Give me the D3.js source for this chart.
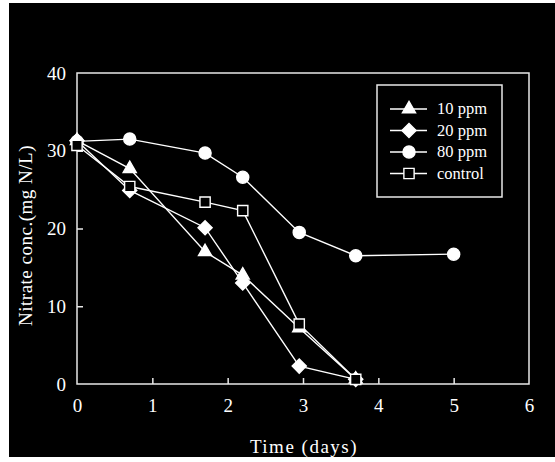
<!DOCTYPE html>
<html>
<head>
<meta charset="utf-8">
<script src="https://cdn.jsdelivr.net/npm/d3@7"></script>
<style>
  body { margin: 0; background: #fff; }
  text { font-family: "Liberation Serif", "Times New Roman", serif; fill: #fff; }
</style>
</head>
<body>
<div id="chart"></div>
<script>
const days = [0, 0.7, 1.7, 2.2, 2.95, 3.7, 5];
const ppm10 = [31.3, 27.7, 17.0, 14.0, 7.2, 0.6];
const ppm20 = [31.3, 24.9, 20.1, 13.0, 2.3, 0.6];
const ppm80 = [31.2, 31.5, 29.7, 26.6, 19.5, 16.5, 16.7];
const control = [30.7, 25.4, 23.4, 22.3, 7.7, 0.6];
const xTicks = [0, 1, 2, 3, 4, 5, 6];
const yTicks = [0, 10, 20, 30, 40];

const seriesList = [
  { name: '10 ppm', values: ppm10, symbol: d3.symbolTriangle, size: 75, rotate: 0, fill: '#fff' },
  { name: '20 ppm', values: ppm20, symbol: d3.symbolSquare, size: 100, rotate: 45, fill: '#fff' },
  { name: '80 ppm', values: ppm80, symbol: d3.symbolCircle, size: 115, rotate: 0, fill: '#fff' },
  { name: 'control', values: control, symbol: d3.symbolSquare, size: 105, rotate: 0, fill: '#000' }
];

const W = 555, H = 462;
const margin = { top: 73, right: 26, bottom: 78, left: 77 };
const width = W - margin.left - margin.right;
const height = H - margin.top - margin.bottom;

const svg = d3.select('#chart').append('svg')
  .attr('width', W)
  .attr('height', H);

// black photo frame, white strip on the edges
svg.append('rect')
  .attr('x', 9).attr('y', 3)
  .attr('width', W - 9).attr('height', H - 8)
  .attr('fill', '#000');

const chart = svg.append('g')
  .attr('transform', `translate(${margin.left},${margin.top})`);

const x = d3.scaleLinear().domain([0, 6]).range([0, width]);
const y = d3.scaleLinear().domain([0, 40]).range([height, 0]);

chart.append('rect')
  .attr('width', width).attr('height', height)
  .attr('fill', 'none')
  .attr('stroke', '#e8e8e8')
  .attr('stroke-width', 1.5);

const xAxis = chart.append('g')
  .attr('transform', `translate(0,${height})`)
  .call(d3.axisBottom(x).tickValues(xTicks).tickSize(-6).tickPadding(15).tickFormat(d3.format('d')));
const yAxis = chart.append('g')
  .call(d3.axisLeft(y).tickValues(yTicks).tickSize(-6).tickPadding(11).tickFormat(d3.format('d')));

[xAxis, yAxis].forEach(a => {
  a.select('.domain').remove();
  a.selectAll('line').attr('stroke', '#e8e8e8').attr('stroke-width', 1.5);
  a.selectAll('text').attr('fill', '#fff').style('font-size', '19px')
    .style('font-family', '"Liberation Serif", serif');
});
xAxis.selectAll('.tick').filter(d => d === 0 || d === 6).select('line').remove();
yAxis.selectAll('.tick').filter(d => d === 0 || d === 40).select('line').remove();

chart.append('text')
  .attr('x', width / 2 + 1)
  .attr('y', height + 69)
  .attr('text-anchor', 'middle')
  .style('font-size', '19px')
  .style('letter-spacing', '1.5px')
  .text('Time (days)');

chart.append('text')
  .attr('transform', 'rotate(-90)')
  .attr('x', -height / 2 - 7)
  .attr('y', -45)
  .attr('text-anchor', 'middle')
  .style('font-size', '19px')
  .style('letter-spacing', '0.5px')
  .text('Nitrate conc.(mg N/L)');

const line = d3.line()
  .x((d, i) => x(days[i]))
  .y(d => y(d));

seriesList.forEach(s => {
  chart.append('path')
    .attr('d', line(s.values))
    .attr('fill', 'none')
    .attr('stroke', '#fff')
    .attr('stroke-width', 1.4);
});

seriesList.forEach(s => {
  chart.selectAll(null)
    .data(s.values)
    .join('path')
    .attr('transform', (d, i) => `translate(${x(days[i])},${y(d)}) rotate(${s.rotate})`)
    .attr('d', d3.symbol().type(s.symbol).size(s.size))
    .attr('fill', s.fill)
    .attr('stroke', '#fff')
    .attr('stroke-width', 1.4);
});

// legend
const legend = svg.append('g').attr('transform', 'translate(377,85)');
legend.append('rect')
  .attr('width', 125).attr('height', 112)
  .attr('fill', '#000')
  .attr('stroke', '#e8e8e8')
  .attr('stroke-width', 1.5);

seriesList.forEach((s, i) => {
  const row = legend.append('g').attr('transform', `translate(0,${24 + i * 21.5})`);
  row.append('line')
    .attr('x1', 13).attr('x2', 50)
    .attr('stroke', '#fff').attr('stroke-width', 1.4);
  row.append('path')
    .attr('transform', `translate(32,0) rotate(${s.rotate})`)
    .attr('d', d3.symbol().type(s.symbol).size(s.size))
    .attr('fill', s.fill)
    .attr('stroke', '#fff')
    .attr('stroke-width', 1.4);
  row.append('text')
    .attr('x', 60)
    .attr('y', 5)
    .style('font-size', '16.5px')
    .text(s.name);
});
</script>
</body>
</html>
